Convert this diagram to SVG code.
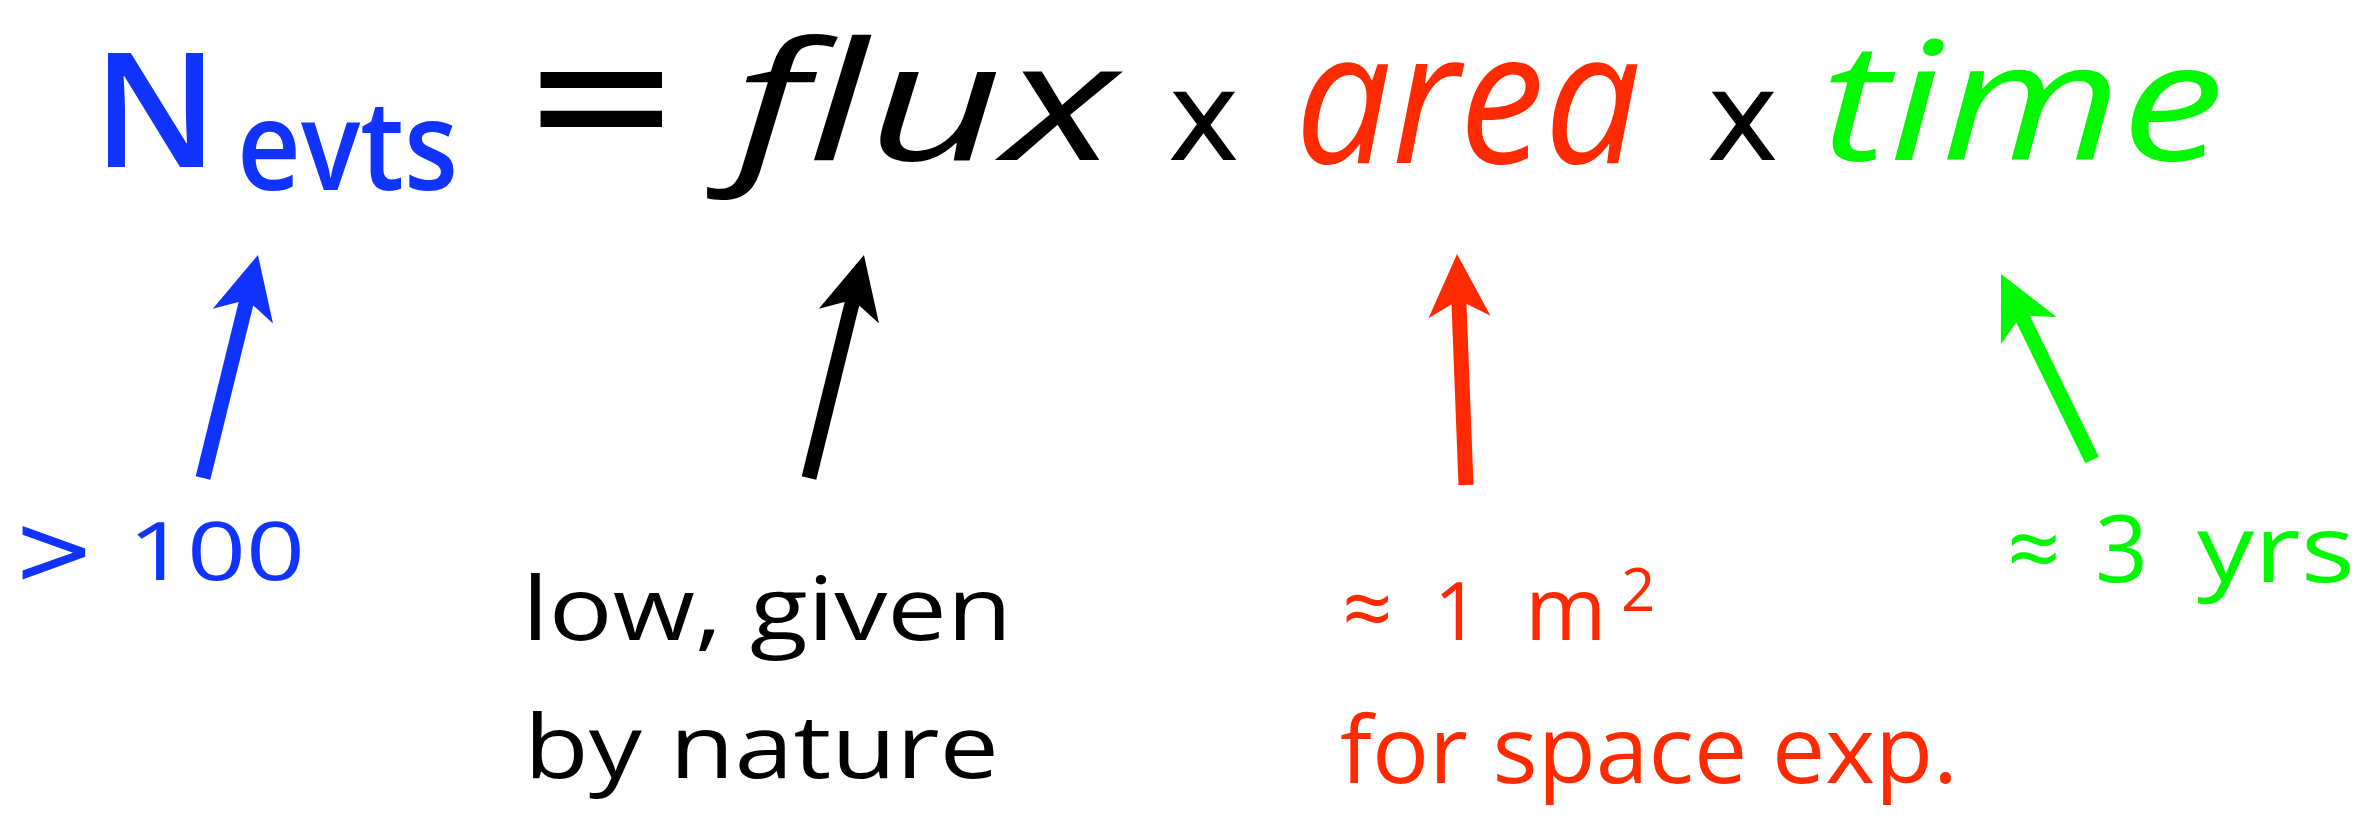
<svg xmlns="http://www.w3.org/2000/svg" width="2375" height="826" viewBox="0 0 2375 826">
  <style>
    .hand-it { font-family: "Open Sans", "Noto Sans", sans-serif; font-style: italic; font-weight: 500; }
    .hand { font-family: "Open Sans", "Noto Sans", sans-serif; font-weight: 500; }
    .sym { font-family: "DejaVu Sans", "Liberation Sans", sans-serif; }
    .blue { fill: #1133ff; }
    .black { fill: #000000; }
    .red { fill: #ff2a00; }
    .green { fill: #00f800; }
    .shaft { fill: none; stroke-width: 15; stroke-linecap: butt; }
  </style>
  <defs>
    <marker id="head-blue" markerUnits="userSpaceOnUse" markerWidth="70" markerHeight="70" viewBox="0 -35 70 70" refX="23" refY="0" orient="auto">
      <path d="M0,-31 L63,0 L0,31 L17,0 Z" fill="#1133ff"/>
    </marker>
    <marker id="head-black" markerUnits="userSpaceOnUse" markerWidth="70" markerHeight="70" viewBox="0 -35 70 70" refX="23" refY="0" orient="auto">
      <path d="M0,-31 L63,0 L0,31 L17,0 Z" fill="#000000"/>
    </marker>
    <marker id="head-red" markerUnits="userSpaceOnUse" markerWidth="70" markerHeight="70" viewBox="0 -35 70 70" refX="23" refY="0" orient="auto">
      <path d="M0,-31 L63,0 L0,31 L17,0 Z" fill="#ff2a00"/>
    </marker>
    <marker id="head-green" markerUnits="userSpaceOnUse" markerWidth="70" markerHeight="70" viewBox="0 -35 70 70" refX="23" refY="0" orient="auto">
      <path d="M0,-31 L63,0 L0,31 L17,0 Z" fill="#00f800"/>
    </marker>
  </defs>
  <rect width="2375" height="826" fill="#ffffff"/>

  <g id="term-nevts" class="hand blue">
    <text x="93" y="167" font-size="160" font-weight="600" textLength="125" lengthAdjust="spacingAndGlyphs">N</text>
    <text x="237" y="190" font-size="125" font-weight="600" textLength="221" lengthAdjust="spacingAndGlyphs">evts</text>
  </g>
  <g id="op-equals" class="sym black">
    <text x="520" y="160" font-size="194">=</text>
  </g>
  <g id="term-flux" class="hand-it black">
    <text x="734" y="160" font-size="165" textLength="383" lengthAdjust="spacingAndGlyphs">flux</text>
  </g>
  <g id="op-times-1" class="sym black">
    <text x="1167" y="160" font-size="124">x</text>
  </g>
  <g id="term-area" class="hand-it red">
    <text x="1295" y="163" font-size="185" textLength="346" lengthAdjust="spacingAndGlyphs">area</text>
  </g>
  <g id="op-times-2" class="sym black">
    <text x="1706" y="160" font-size="124">x</text>
  </g>
  <g id="term-time" class="hand-it green">
    <text x="1821" y="160" font-size="165" textLength="403" lengthAdjust="spacingAndGlyphs">time</text>
  </g>

  <g id="label-nevts" class="blue">
    <text class="sym" x="12" y="584" font-size="100">&gt;</text>
    <text class="hand" x="128" y="580" font-size="80" textLength="177" lengthAdjust="spacingAndGlyphs">100</text>
  </g>
  <g id="label-flux" class="hand black">
    <text x="522" y="640" font-size="88" textLength="490" lengthAdjust="spacingAndGlyphs">low, given</text>
    <text x="524" y="778" font-size="88" textLength="475" lengthAdjust="spacingAndGlyphs">by nature</text>
  </g>
  <g id="label-area" class="hand red">
    <text y="640" font-size="88"><tspan x="1342">≈</tspan><tspan x="1434" font-size="80">1</tspan><tspan x="1525">m</tspan></text>
    <text x="1621" y="611" font-size="60">2</text>
    <text x="1340" y="783" font-size="93" textLength="618" lengthAdjust="spacingAndGlyphs">for space exp.</text>
  </g>
  <g id="label-time" class="hand green">
    <text y="582" font-size="93"><tspan x="2007">≈</tspan><tspan x="2095">3</tspan></text>
    <text x="2197" y="582" font-size="93" textLength="158" lengthAdjust="spacingAndGlyphs">yrs</text>
  </g>

  <g id="connectors">
    <line class="shaft" x1="203" y1="478" x2="248.4" y2="293.8" stroke="#1133ff" marker-end="url(#head-blue)"/>
    <line class="shaft" x1="809" y1="478" x2="854.4" y2="293.8" stroke="#000000" marker-end="url(#head-black)"/>
    <line class="shaft" x1="1466" y1="485" x2="1458.6" y2="294" stroke="#ff2a00" marker-end="url(#head-red)"/>
    <line class="shaft" x1="2092" y1="460" x2="2018.6" y2="310" stroke="#00f800" marker-end="url(#head-green)"/>
  </g>
</svg>
